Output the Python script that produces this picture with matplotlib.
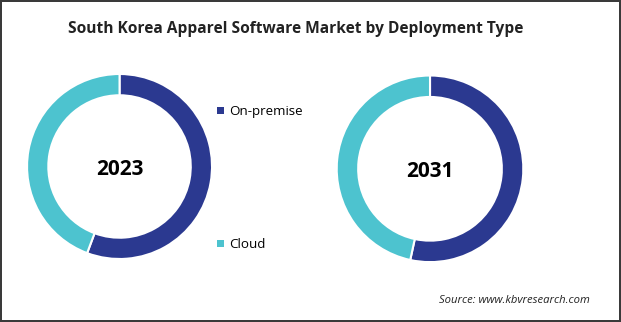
import matplotlib
matplotlib.use("Agg")
import matplotlib.pyplot as plt
from matplotlib.patches import Patch

plt.rcParams["font.family"] = ["Open Sans", "DejaVu Sans"]

segments = ["On-premise", "Cloud"]
years = ["2023", "2031"]
share_2023 = [55.7, 44.3]
share_2031 = [53.4, 46.6]
colors = ["#2B3990", "#4DC3CF"]

fig = plt.figure(figsize=(6.21, 3.22), dpi=100)
fig.patch.set_edgecolor("#3a3a3a")
fig.patch.set_linewidth(1.5)

fig.text(0.476, 0.91, "South Korea Apparel Software Market by Deployment Type",
         ha="center", va="center", fontsize=11.2, fontweight="bold", color="#222222")

# pie axes placed in pixel-derived figure fractions
boxes = [[0.0435, 0.1957, 0.298, 0.5745], [0.5422, 0.186, 0.3005, 0.5795]]
for box, year, vals in zip(boxes, years, [share_2023, share_2031]):
    ax = fig.add_axes(box)
    ax.pie(vals, colors=colors, startangle=90, counterclock=False, radius=1,
           wedgeprops=dict(width=0.23, edgecolor="white", linewidth=1.5))
    ax.set_xlim(-1, 1)
    ax.set_ylim(-1, 1)
    ax.set_aspect("equal")
    ax.text(0, -0.03, year, ha="center", va="center", fontsize=15,
            fontweight="bold", color="black")

handles = [Patch(facecolor=c, edgecolor="none") for c in colors]
fig.legend(handles, segments, loc="center left", bbox_to_anchor=(0.33, 0.446),
           frameon=False, fontsize=9.6, labelspacing=9.0, handlelength=0.5,
           handleheight=0.5, handletextpad=0.45)

fig.text(0.949, 0.066, "Source: www.kbvresearch.com", ha="right", va="center",
         fontsize=8.1, style="italic", color="#222222")

fig.savefig("out.png", dpi=100)
